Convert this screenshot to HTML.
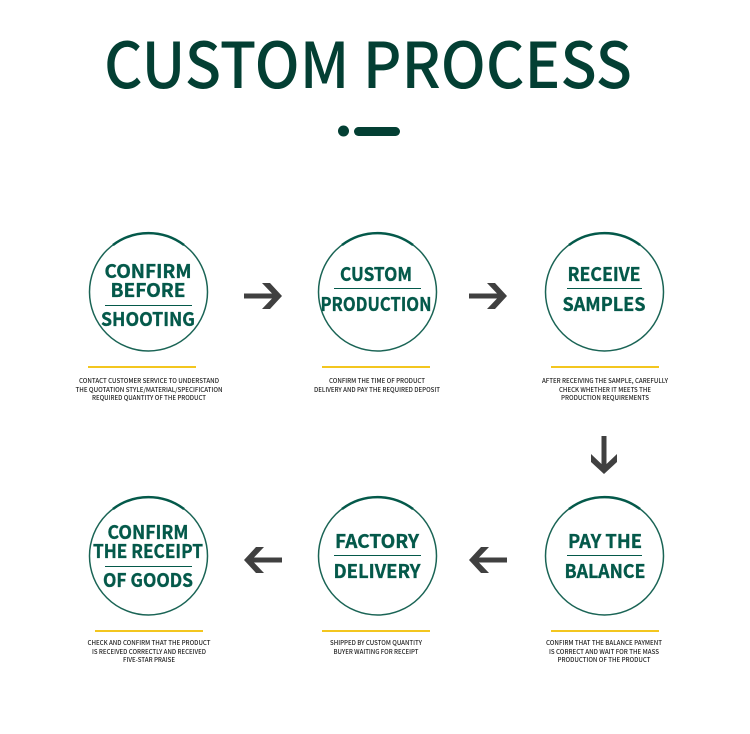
<!DOCTYPE html>
<html><head><meta charset="utf-8"><style>
html,body{margin:0;padding:0;background:#fff;width:750px;height:734px;overflow:hidden}
svg{display:block}
text{font-family:"Noto Sans CJK SC","Liberation Sans",sans-serif;text-anchor:middle}
.h{font-size:19px;font-weight:700;fill:#04594a;stroke:#04594a;stroke-width:.35px}
.d{font-size:6.4px;font-weight:500;fill:#222}
.c{fill:none;stroke:#1a6455;stroke-width:1.5}
.a{fill:none;stroke:#04594a;stroke-width:2.5}
.r{stroke:#04594a;stroke-width:1}
.y{fill:#f3c61f}
.ar{fill:#404040}
</style></head><body>
<svg width="750" height="734" viewBox="0 0 750 734" xmlns="http://www.w3.org/2000/svg">
<text x="368" y="88" style="font-size:63px;font-weight:500;fill:#033f33" textLength="528" lengthAdjust="spacingAndGlyphs">CUSTOM PROCESS</text>
<circle cx="343.500" cy="131" r="5.500" fill="#033f33"/>
<rect x="354" y="127" width="46" height="9" rx="4.500" fill="#033f33"/>

<circle class="c" cx="148.500" cy="292" r="59"/><path class="a" d="M113 245A59 59 0 0 1 184 245"/>
<text class="h" x="148" y="278" textLength="87" lengthAdjust="spacingAndGlyphs">CONFIRM</text>
<text class="h" x="148" y="297" textLength="75" lengthAdjust="spacingAndGlyphs">BEFORE</text>
<line class="r" x1="105" y1="305.500" x2="192" y2="305.500"/>
<text class="h" x="148" y="326" textLength="94" lengthAdjust="spacingAndGlyphs">SHOOTING</text>
<rect class="y" x="88" y="366" width="108" height="2"/>
<text class="d" x="149" y="383" textLength="140" lengthAdjust="spacingAndGlyphs">CONTACT CUSTOMER SERVICE TO UNDERSTAND</text>
<text class="d" x="149" y="392" textLength="147" lengthAdjust="spacingAndGlyphs">THE QUOTATION STYLE/MATERIAL/SPECIFICATION</text>
<text class="d" x="149" y="400" textLength="114" lengthAdjust="spacingAndGlyphs">REQUIRED QUANTITY OF THE PRODUCT</text>

<circle class="c" cx="377.500" cy="292" r="59"/><path class="a" d="M342 245A59 59 0 0 1 413 245"/>
<text class="h" x="376" y="281" textLength="72" lengthAdjust="spacingAndGlyphs">CUSTOM</text>
<line class="r" x1="334" y1="288.500" x2="421" y2="288.500"/>
<text class="h" x="376" y="311" textLength="111" lengthAdjust="spacingAndGlyphs">PRODUCTION</text>
<rect class="y" x="322" y="366" width="108" height="2"/>
<text class="d" x="377" y="383" textLength="96" lengthAdjust="spacingAndGlyphs">CONFIRM THE TIME OF PRODUCT</text>
<text class="d" x="377" y="392" textLength="126" lengthAdjust="spacingAndGlyphs">DELIVERY AND PAY THE REQUIRED DEPOSIT</text>

<circle class="c" cx="604.500" cy="292" r="59"/><path class="a" d="M569 245A59 59 0 0 1 640 245"/>
<text class="h" x="604" y="281" textLength="73" lengthAdjust="spacingAndGlyphs">RECEIVE</text>
<line class="r" x1="567" y1="288.500" x2="642" y2="288.500"/>
<text class="h" x="604" y="311" textLength="83" lengthAdjust="spacingAndGlyphs">SAMPLES</text>
<rect class="y" x="551" y="366" width="108" height="2"/>
<text class="d" x="605" y="383" textLength="126" lengthAdjust="spacingAndGlyphs">AFTER RECEIVING THE SAMPLE, CAREFULLY</text>
<text class="d" x="605" y="392" textLength="92" lengthAdjust="spacingAndGlyphs">CHECK WHETHER IT MEETS THE</text>
<text class="d" x="605" y="400" textLength="88" lengthAdjust="spacingAndGlyphs">PRODUCTION REQUIREMENTS</text>

<circle class="c" cx="148.500" cy="556" r="59"/><path class="a" d="M113 509A59 59 0 0 1 184 509"/>
<text class="h" x="148" y="539" textLength="81" lengthAdjust="spacingAndGlyphs">CONFIRM</text>
<text class="h" x="148" y="558" textLength="110" lengthAdjust="spacingAndGlyphs">THE RECEIPT</text>
<line class="r" x1="105" y1="566.500" x2="192" y2="566.500"/>
<text class="h" x="148" y="587" textLength="90" lengthAdjust="spacingAndGlyphs">OF GOODS</text>
<rect class="y" x="95" y="630" width="108" height="2"/>
<text class="d" x="149" y="645" textLength="123" lengthAdjust="spacingAndGlyphs">CHECK AND CONFIRM THAT THE PRODUCT</text>
<text class="d" x="149" y="654" textLength="114" lengthAdjust="spacingAndGlyphs">IS RECEIVED CORRECTLY AND RECEIVED</text>
<text class="d" x="149" y="662" textLength="52" lengthAdjust="spacingAndGlyphs">FIVE-STAR PRAISE</text>

<circle class="c" cx="377.500" cy="556" r="59"/><path class="a" d="M342 509A59 59 0 0 1 413 509"/>
<text class="h" x="377" y="548" textLength="84" lengthAdjust="spacingAndGlyphs">FACTORY</text>
<line class="r" x1="334" y1="555.500" x2="421" y2="555.500"/>
<text class="h" x="377" y="578" textLength="87" lengthAdjust="spacingAndGlyphs">DELIVERY</text>
<rect class="y" x="322" y="630" width="108" height="2"/>
<text class="d" x="376" y="645" textLength="92" lengthAdjust="spacingAndGlyphs">SHIPPED BY CUSTOM QUANTITY</text>
<text class="d" x="376" y="654" textLength="85" lengthAdjust="spacingAndGlyphs">BUYER WAITING FOR RECEIPT</text>

<circle class="c" cx="604.500" cy="556" r="59"/><path class="a" d="M569 509A59 59 0 0 1 640 509"/>
<text class="h" x="605" y="548" textLength="74" lengthAdjust="spacingAndGlyphs">PAY THE</text>
<line class="r" x1="567" y1="555.500" x2="642" y2="555.500"/>
<text class="h" x="605" y="578" textLength="81" lengthAdjust="spacingAndGlyphs">BALANCE</text>
<rect class="y" x="551" y="630" width="108" height="2"/>
<text class="d" x="604" y="645" textLength="116" lengthAdjust="spacingAndGlyphs">CONFIRM THAT THE BALANCE PAYMENT</text>
<text class="d" x="604" y="654" textLength="110" lengthAdjust="spacingAndGlyphs">IS CORRECT AND WAIT FOR THE MASS</text>
<text class="d" x="604" y="662" textLength="93" lengthAdjust="spacingAndGlyphs">PRODUCTION OF THE PRODUCT</text>

<path class="ar" d="M244 293.500H272L262 283H270L282 296L270 309H262L272 298.500H244Z"/>
<path class="ar" d="M469 293.500H497L487 283H495L507 296L495 309H487L497 298.500H469Z"/>
<path class="ar" d="M601.500 436H606.500V464L617 454V462L604 474L591 462V454L601.500 464Z"/>
<path class="ar" d="M282 557.500H254L264 547H256L244 560L256 573H264L254 562.500H282Z"/>
<path class="ar" d="M507 557.500H479L489 547H481L469 560L481 573H489L479 562.500H507Z"/>
</svg>
</body></html>
